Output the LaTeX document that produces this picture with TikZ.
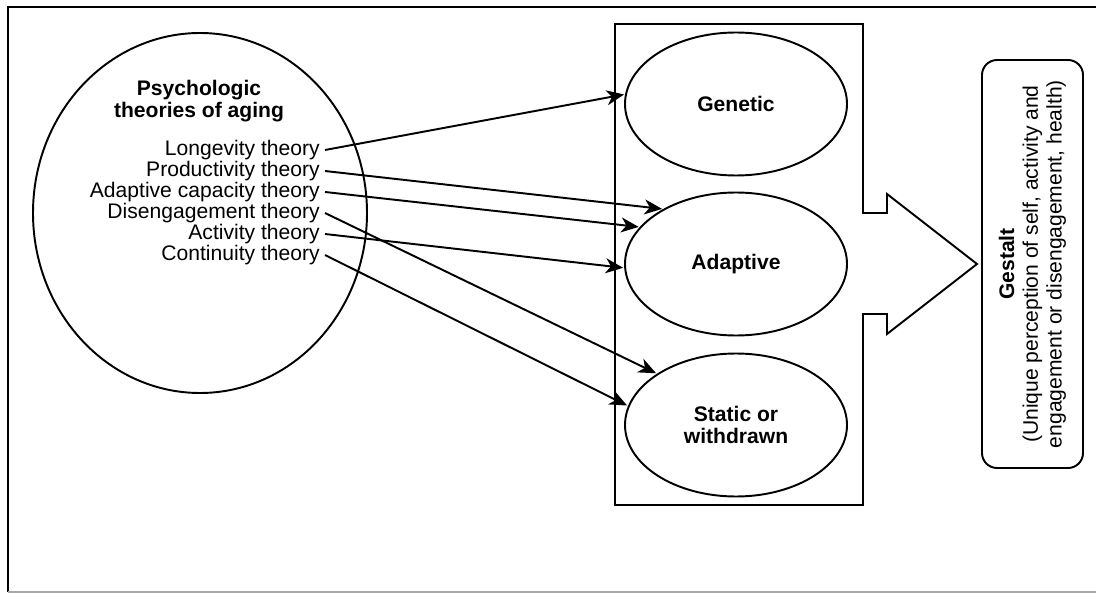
\documentclass[tikz,border=0pt]{standalone}
\usepackage{fontspec}
\setmainfont{Liberation Sans}
\usepackage{tikz}
\usetikzlibrary{arrows.meta,shapes.geometric}

\begin{document}
\begin{tikzpicture}[
		txt/.style={font=\fontsize{12}{12.5}\selectfont, inner sep=0.1cm},
		bigoval/.style={draw, ellipse, line width=1.1pt, inner sep=0},
		oval/.style={draw, ellipse, line width=1.1pt, minimum width=4.44cm, minimum height=2.86cm, align=center, font=\fontsize{12}{12.5}\selectfont\bfseries},
		arr/.style={-{Stealth[length=10pt,width=8.5pt,inset=3pt]}, line width=1.1pt, shorten >=0.02cm}
	]
		    \useasboundingbox (0,0) rectangle (21.92,11.86);

		    % frame
		    \draw[line width=1.4pt] (0.16,0.02) -- (0.16,11.72) -- (21.92,11.72);
		    \draw[line width=1pt, black!35] (0.16,0.02) -- (21.92,0.02);

		    \begin{scope}
					% left oval with the theories
					\node[bigoval, minimum width=6.68cm, minimum height=7.2cm] (psy) at (4.00,7.60) {};
					\node[txt, align=center, font=\fontsize{12}{12.5}\selectfont\bfseries] (tit) at (3.98,9.84) {Psychologic\\theories of aging};

					\node[txt, anchor=east] (lon) at (6.50,8.86) {Longevity theory};
					\node[txt, anchor=east] (pro) at (6.50,8.44) {Productivity theory};
					\node[txt, anchor=east] (adc) at (6.50,8.02) {Adaptive capacity theory};
					\node[txt, anchor=east] (dis) at (6.50,7.60) {Disengagement theory};
					\node[txt, anchor=east] (act) at (6.50,7.18) {Activity theory};
					\node[txt, anchor=east] (con) at (6.50,6.76) {Continuity theory};

					% box and big arrow
					\draw[line width=1.1pt] (12.30,11.38) -- (17.26,11.38) -- (17.26,7.60) -- (17.74,7.60) -- (17.74,7.98)
						-- (19.54,6.58) -- (17.74,5.18) -- (17.74,5.58) -- (17.26,5.58) -- (17.26,1.76) -- (12.30,1.76) -- cycle;

					\node[oval] (gen) at (14.72,9.78) {Genetic};
					\node[oval] (ada) at (14.72,6.58) {Adaptive};
					\node[oval] (sta) at (14.72,3.36) {Static or\\withdrawn};

					% gestalt box
					\node[draw, rounded corners=0.3cm, line width=1.1pt, rotate=90, minimum width=8.16cm, minimum height=2.02cm,
						align=center, font=\fontsize{12}{13.5}\selectfont] (gst) at (20.65,6.58)
						{\textbf{Gestalt}\\(Unique perception of self, activity and\\engagement or disengagement, health)};

					\draw[arr] (lon.east) -- (gen.175); % longevity
					\draw[arr] (pro.east) -- (ada.143); % productivity
					\draw[arr] (adc.east) -- (ada.159); % adaptive capacity
					\draw[arr] (dis.east) -- (sta.147); % disengagement
					\draw[arr] (act.east) -- (ada.182); % activity
					\draw[arr] (con.east) -- (sta.170); % continuity
		    \end{scope}
\end{tikzpicture}
\end{document}
